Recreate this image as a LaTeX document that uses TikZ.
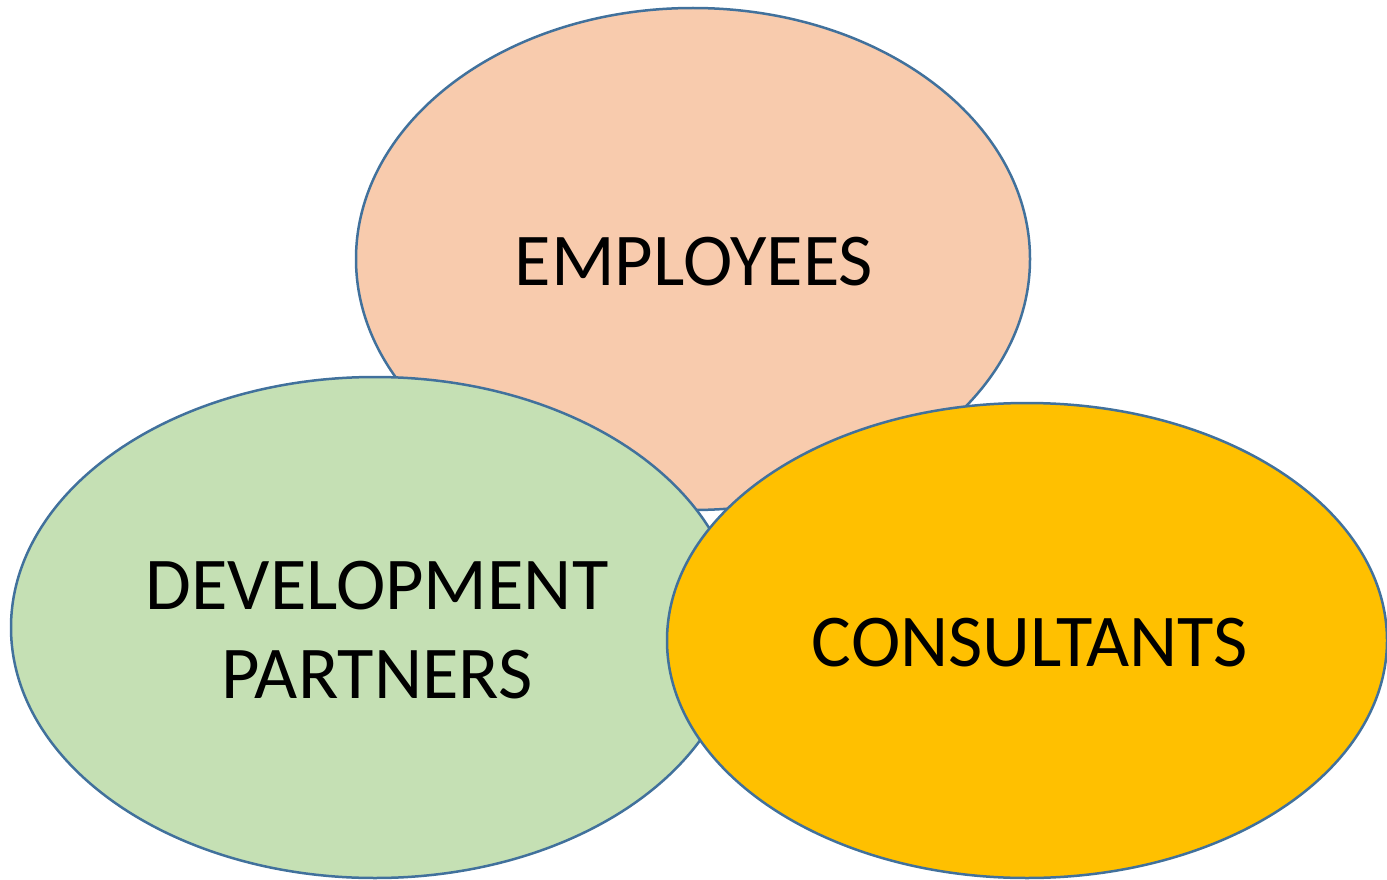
\documentclass[tikz,border=0pt]{standalone}
\usepackage{fontspec}
\setmainfont{Carlito}
\definecolor{edge}{HTML}{41719C}
\definecolor{pinkfill}{HTML}{F8CBAD}
\definecolor{greenfill}{HTML}{C5E0B4}
\definecolor{goldfill}{HTML}{FFC000}
\begin{document}
\begin{tikzpicture}[x=1pt,y=-1pt,
  blob/.style={draw=edge,line width=2.5pt},
  lbl/.style={font=\fontsize{74.5}{89}\selectfont,align=center,text=black}]
\useasboundingbox (0,0) rectangle (1387,880);
\begin{scope}
\clip (0,0) rectangle (1387,880);
\filldraw[blob,fill=pinkfill] (693,259) ellipse [x radius=337, y radius=251];
\filldraw[blob,fill=greenfill] (375,627.5) ellipse [x radius=364, y radius=250.5];
\filldraw[blob,fill=goldfill] (1027,640.5) ellipse [x radius=360, y radius=237.5];
\end{scope}
\node[lbl] (emp) at (694,262) {EMPLOYEES};
\node[lbl] (dev) at (377,630) {DEVELOPMENT\\PARTNERS};
\node[lbl] (con) at (1030,643) {CONSULTANTS};
\end{tikzpicture}
\end{document}
